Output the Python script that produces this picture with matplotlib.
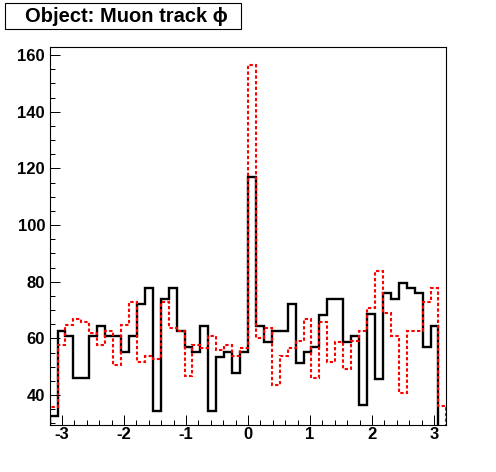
import numpy as np
import matplotlib
matplotlib.use("Agg")
from matplotlib import pyplot as plt
from matplotlib.patches import Rectangle
from matplotlib.ticker import MultipleLocator

# 50 bins of muon phi between -3.2 and 3.2
phi_lo, phi_hi, n_bins = -3.2, 3.2, 50

black_counts = [32.7, 62.7, 60.9, 45.9, 45.9, 60.9, 64.4, 60.9, 60.9, 55.3,
                60.9, 72.1, 77.9, 34.5, 73.9, 77.9, 62.7, 57.0, 55.3, 64.4,
                34.5, 53.5, 55.3, 47.9, 55.3, 117.0, 64.3, 58.8, 62.7, 62.7,
                72.3, 51.2, 55.3, 57.0, 68.2, 73.9, 73.9, 58.8, 60.8, 36.5,
                68.5, 45.6, 75.9, 73.9, 79.6, 77.9, 75.9, 57.0, 64.4, 28.0]

red_counts = [35.9, 57.6, 64.7, 66.8, 65.9, 61.8, 57.6, 62.6, 50.6, 64.7,
              72.9, 51.8, 53.8, 52.7, 72.9, 63.5, 62.7, 46.7, 57.6, 56.7,
              60.9, 55.9, 57.6, 53.9, 56.5, 156.4, 60.0, 63.8, 43.5, 53.8,
              56.7, 59.0, 66.8, 45.9, 65.9, 51.8, 58.8, 49.2, 59.0, 62.7,
              70.8, 83.9, 68.8, 60.9, 40.8, 62.7, 62.7, 72.9, 77.9, 36.1]

x_ticks = [-3, -2, -1, 0, 1, 2, 3]
y_ticks = [40, 60, 80, 100, 120, 140, 160]

plt.rcParams['font.family'] = ['Liberation Sans', 'DejaVu Sans']
plt.rcParams['font.weight'] = 'bold'
plt.rcParams['axes.unicode_minus'] = False

edges = np.linspace(phi_lo, phi_hi, n_bins + 1)

fig = plt.figure(figsize=(4.96, 4.72), dpi=100)
ax = fig.add_axes([0.1, 0.1, 0.8, 0.8])

ax.stairs(black_counts, edges, color='black', linewidth=1.7)
ax.stairs(red_counts, edges, color='red', linewidth=1.5,
          linestyle=(0, (1.6, 1.1)))

ax.set_xlim(phi_lo, phi_hi)
ax.set_ylim(29.5, 162.8)

ax.set_xticks(x_ticks)
ax.set_yticks(y_ticks)
ax.xaxis.set_minor_locator(MultipleLocator(0.2))
ax.yaxis.set_minor_locator(MultipleLocator(5))
ax.tick_params(which='both', direction='in', width=0.72, top=False, right=False)
ax.tick_params(which='major', length=7.2)
ax.tick_params(which='minor', length=3.6)
ax.tick_params(axis='x', which='major', pad=1.5, labelsize=12)
ax.tick_params(axis='y', which='major', pad=3.3, labelsize=12)
for lab in ax.get_xticklabels() + ax.get_yticklabels():
  lab.set_fontweight('bold')

for sp in ax.spines.values():
  sp.set_linewidth(0.8)

# title box, ROOT style
fig.patches.append(Rectangle((0.0095, 0.9379), 0.4758, 0.0551,
                             transform=fig.transFigure, facecolor='white',
                             edgecolor='black', linewidth=0.8))
fig.text(0.2544, 0.953, "Object: Muon track \u03d5", ha='center', va='baseline',
         fontsize=14.5, fontweight='bold')

fig.savefig("out.png", dpi=100)
